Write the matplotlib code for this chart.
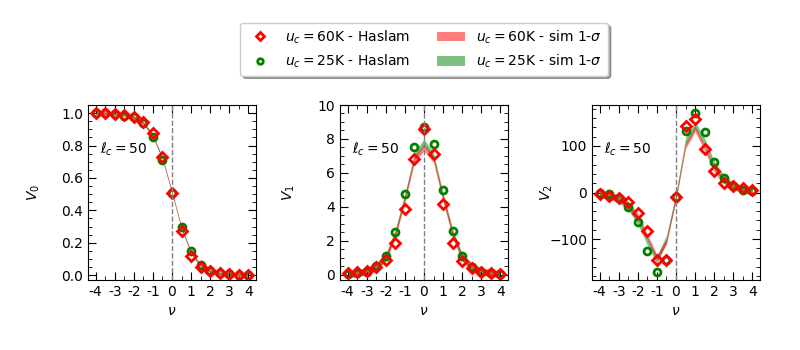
import numpy as np
import matplotlib
matplotlib.use("Agg")
import matplotlib.pyplot as plt
from matplotlib.ticker import MultipleLocator, AutoMinorLocator
from matplotlib.patches import Patch
from matplotlib.lines import Line2D

# valores de nu
nu = np.arange(-4, 4.01, 0.5)

# V0 - Haslam
v0_60 = [1.0, 1.0, 0.995, 0.99, 0.975, 0.945, 0.88, 0.73, 0.51, 0.275, 0.12, 0.05, 0.025, 0.012, 0.006, 0.003, 0.002]
v0_25 = [1.0, 1.0, 0.995, 0.985, 0.975, 0.94, 0.855, 0.71, 0.51, 0.30, 0.15, 0.065, 0.025, 0.012, 0.006, 0.003, 0.002]
# V0 - sim (media y 1-sigma)
v0_sim60 = [1.0, 1.0, 0.995, 0.99, 0.975, 0.94, 0.86, 0.72, 0.51, 0.29, 0.14, 0.06, 0.025, 0.012, 0.006, 0.003, 0.002]
v0_sim25 = [1.0, 1.0, 0.995, 0.99, 0.975, 0.94, 0.86, 0.72, 0.51, 0.29, 0.14, 0.06, 0.025, 0.012, 0.006, 0.003, 0.002]
v0_sig60 = 0.008
v0_sig25 = 0.008

# V1 - Haslam
v1_60 = [0.1, 0.2, 0.25, 0.45, 0.9, 1.85, 3.9, 6.8, 8.6, 7.1, 4.2, 1.9, 0.8, 0.4, 0.2, 0.12, 0.08]
v1_25 = [0.05, 0.1, 0.2, 0.5, 1.1, 2.55, 4.75, 7.5, 8.7, 7.7, 5.0, 2.6, 1.1, 0.45, 0.2, 0.1, 0.05]
# V1 - sim
v1_sim60 = [0.05, 0.1, 0.2, 0.5, 1.0, 2.4, 4.5, 6.8, 7.5, 6.8, 4.5, 2.4, 1.0, 0.5, 0.2, 0.1, 0.05]
v1_sim25 = [0.05, 0.1, 0.2, 0.5, 1.05, 2.5, 4.6, 7.0, 7.8, 7.0, 4.6, 2.5, 1.05, 0.5, 0.2, 0.1, 0.05]
v1_sig60 = 0.2
v1_sig25 = 0.2

# V2 - Haslam
v2_60 = [-4, -8, -11, -20, -44, -83, -145, -145, -9, 144, 157, 93, 46, 21, 14, 9, 6]
v2_25 = [-1, -4, -11, -32, -63, -125, -171, -145, -9, 132, 171, 129, 66, 31, 14, 6, 4]
# V2 - sim
v2_sim60 = [-3, -6, -12, -25, -50, -95, -140, -105, -9, 100, 137, 95, 50, 25, 12, 6, 3]
v2_sim25 = [-3, -7, -14, -30, -60, -105, -145, -100, -9, 110, 145, 108, 60, 30, 14, 7, 3]
v2_sig60 = 6
v2_sig25 = 8

xticks = [-4, -3, -2, -1, 0, 1, 2, 3, 4]
xticklabels = ["-4", "-3", "-2", "-1", "0", "1", "2", "3", "4"]

paneles = [
    (v0_60, v0_25, v0_sim60, v0_sim25, v0_sig60, v0_sig25, r"$V_0$"),
    (v1_60, v1_25, v1_sim60, v1_sim25, v1_sig60, v1_sig25, r"$V_1$"),
    (v2_60, v2_25, v2_sim60, v2_sim25, v2_sig60, v2_sig25, r"$V_2$"),
]

fig = plt.figure(figsize=(8, 3.5), dpi=100)
lefts = [0.11, 0.425, 0.74]
label_x = [-0.272, -0.257, -0.222]

for i, (h60, h25, s60, s25, e60, e25, lab) in enumerate(paneles):
    ax = fig.add_axes([lefts[i], 0.2, 0.21, 0.5])
    s60 = np.array(s60)
    s25 = np.array(s25)
    ax.fill_between(nu, s25 - e25, s25 + e25, color="green", alpha=0.5, lw=0)
    ax.fill_between(nu, s60 - e60, s60 + e60, color="red", alpha=0.5, lw=0)
    ax.plot(nu, h25, "o", mfc="none", mec="green", mew=2, ms=5)
    ax.plot(nu, h60, "D", mfc="none", mec="red", mew=2, ms=5)
    ax.axvline(0, color="gray", ls="--", lw=1)
    ax.text(0.07, 0.725, r"$\ell_c = 50$", transform=ax.transAxes, fontsize=10)
    ax.set_xlabel(r"$\nu$")
    ax.set_ylabel(lab)
    ax.yaxis.set_label_coords(label_x[i], 0.5)
    ax.set_xticks(xticks)
    ax.set_xticklabels(xticklabels)
    ax.xaxis.set_minor_locator(MultipleLocator(0.5))
    ax.yaxis.set_minor_locator(AutoMinorLocator())
    ax.tick_params(which="both", direction="in", top=True, right=True)
    ax.tick_params(which="major", length=6)
    ax.tick_params(which="minor", length=3)
    if i == 1:
        ax.set_ylim(-0.3, 10)
    if i == 0:
        ax.set_ylim(-0.03, 1.05)

handles = [
    Line2D([], [], ls="none", marker="D", mfc="none", mec="red", mew=2, ms=4),
    Line2D([], [], ls="none", marker="o", mfc="none", mec="green", mew=2, ms=4),
    Patch(facecolor="red", alpha=0.5),
    Patch(facecolor="green", alpha=0.5),
]
labels = [
    r"$u_c = 60$K - Haslam",
    r"$u_c = 25$K - Haslam",
    r"$u_c = 60$K - sim 1-$\sigma$",
    r"$u_c = 25$K - sim 1-$\sigma$",
]
fig.legend(handles, labels, ncol=2, loc="upper center", bbox_to_anchor=(0.53, 0.955),
           fancybox=True, shadow=True, fontsize=10)

fig.savefig("out.png", dpi=100)
